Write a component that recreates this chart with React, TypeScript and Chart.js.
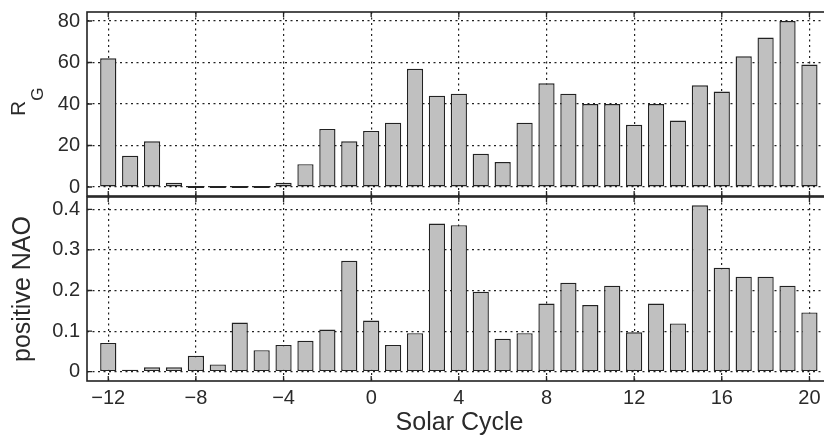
import React, { useEffect, useRef } from "react";
import { Chart, registerables } from "chart.js";

Chart.register(...registerables);

// ---- data ----
const solarCycles = [-12, -11, -10, -9, -8, -7, -6, -5, -4, -3, -2, -1, 0, 1, 2, 3, 4, 5, 6, 7, 8, 9, 10, 11, 12, 13, 14, 15, 16, 17, 18, 19, 20];
const rgValues = [62, 15, 22, 2, 0, 0, 0, 0, 2, 11, 28, 22, 27, 31, 57, 44, 45, 16, 12, 31, 50, 45, 40, 40, 30, 40, 32, 49, 46, 63, 72, 80, 59];
const naoValues = [0.071, 0.004, 0.011, 0.011, 0.039, 0.018, 0.121, 0.053, 0.066, 0.076, 0.104, 0.273, 0.126, 0.066, 0.095, 0.365, 0.361, 0.197, 0.081, 0.095, 0.168, 0.219, 0.164, 0.212, 0.097, 0.168, 0.119, 0.41, 0.256, 0.234, 0.234, 0.212, 0.146];
const xTickValues = [-12, -8, -4, 0, 4, 8, 12, 16, 20];
const rgTickValues = [0, 20, 40, 60, 80];
const naoTickValues = [0, 0.1, 0.2, 0.3, 0.4];
const xAxisTitle = "Solar Cycle";
const rgAxisTitleMain = "R";
const rgAxisTitleSub = "G";
const naoAxisTitle = "positive NAO";

// ---- style ----
const FONT = "'Liberation Sans', Arial, Helvetica, sans-serif";
const INK = "#222222";
const TEXT = "#2a2a2a";
const BAR_FILL = "#c0c0c0";

const frameAndTicks = {
  id: "frameAndTicks",
  afterDatasetsDraw(chart: any) {
    const { ctx, chartArea: a, scales } = chart;
    const len = 5;
    ctx.save();
    ctx.strokeStyle = INK;
    ctx.lineWidth = 1.3;
    ctx.setLineDash([]);
    ctx.beginPath();
    scales.x.ticks.forEach((t: any) => {
      const px = scales.x.getPixelForValue(t.value);
      ctx.moveTo(px, a.bottom);
      ctx.lineTo(px, a.bottom - len);
      ctx.moveTo(px, a.top);
      ctx.lineTo(px, a.top + len);
    });
    scales.y.ticks.forEach((t: any) => {
      const py = scales.y.getPixelForValue(t.value);
      ctx.moveTo(a.left, py);
      ctx.lineTo(a.left + len, py);
      ctx.moveTo(a.right, py);
      ctx.lineTo(a.right - len, py);
    });
    ctx.stroke();
    ctx.lineWidth = 1.6;
    ctx.strokeRect(a.left, a.top, a.right - a.left, a.bottom - a.top);
    ctx.restore();
  },
};

const rgTitlePlugin = {
  id: "rgTitle",
  afterDraw(chart: any) {
    const { ctx } = chart;
    ctx.save();
    ctx.translate(25, 116);
    ctx.rotate(-Math.PI / 2);
    ctx.fillStyle = TEXT;
    ctx.textAlign = "left";
    ctx.textBaseline = "alphabetic";
    ctx.font = `21px ${FONT}`;
    ctx.fillText(rgAxisTitleMain, 0, 0);
    const w = ctx.measureText(rgAxisTitleMain).width;
    ctx.font = `17px ${FONT}`;
    ctx.fillText(rgAxisTitleSub, w, 18);
    ctx.restore();
  },
};

function buildConfig(p: {
  values: number[];
  yMin: number;
  yMax: number;
  yTicks: number[];
  yFmt: (v: number) => string;
  bottomPanel: boolean;
  padTop: number;
  xHeight: number;
  extraPlugins: any[];
}): any {
  return {
    type: "bar",
    data: {
      datasets: [
        {
          data: solarCycles.map((x, i) => ({ x, y: p.values[i] })),
          backgroundColor: BAR_FILL,
          borderColor: INK,
          borderWidth: 1.4,
          borderSkipped: false,
          barPercentage: 0.74,
          categoryPercentage: 1,
          minBarLength: 2,
        },
      ],
    },
    options: {
      animation: false,
      responsive: true,
      maintainAspectRatio: false,
      layout: { padding: { top: p.padTop, left: 0, right: 0, bottom: 0 } },
      plugins: { legend: { display: false }, tooltip: { enabled: false } },
      scales: {
        x: {
          type: "linear",
          min: -12.97,
          max: 21.03,
          offset: false,
          afterBuildTicks: (axis: any) => {
            axis.ticks = xTickValues.map((v) => ({ value: v }));
          },
          afterFit: (axis: any) => {
            axis.height = p.xHeight;
            axis.paddingLeft = 0;
            axis.paddingRight = 0;
          },
          ticks: {
            display: p.bottomPanel,
            font: { family: FONT, size: 20 },
            color: TEXT,
            padding: 5,
            maxRotation: 0,
            autoSkip: false,
            callback: (v: number) => (v < 0 ? "\u2212" + Math.abs(v) : String(v)),
          },
          grid: { color: INK, lineWidth: 1.2, drawTicks: false, offset: false },
          border: { display: false, dash: [2, 3.5] },
          title: {
            display: p.bottomPanel,
            text: xAxisTitle,
            color: TEXT,
            font: { family: FONT, size: 25 },
            padding: { top: 0, bottom: 0 },
          },
        },
        y: {
          type: "linear",
          min: p.yMin,
          max: p.yMax,
          afterBuildTicks: (axis: any) => {
            axis.ticks = p.yTicks.map((v) => ({ value: v }));
          },
          afterFit: (axis: any) => {
            axis.width = 87;
            axis.paddingTop = 0;
            axis.paddingBottom = 0;
          },
          ticks: {
            font: { family: FONT, size: 20 },
            color: TEXT,
            padding: 7,
            callback: (v: number) => p.yFmt(v),
          },
          grid: { color: INK, lineWidth: 1.2, drawTicks: false },
          border: { display: false, dash: [2, 3.5] },
          title: {
            display: p.bottomPanel,
            text: naoAxisTitle,
            color: TEXT,
            font: { family: FONT, size: 25 },
            padding: { top: 8, bottom: 0 },
          },
        },
      },
    },
    plugins: [frameAndTicks, ...p.extraPlugins],
  };
}

export default function App() {
  const topRef = useRef<HTMLCanvasElement | null>(null);
  const bottomRef = useRef<HTMLCanvasElement | null>(null);

  useEffect(() => {
    if (!topRef.current || !bottomRef.current) return;
    const top = new Chart(
      topRef.current,
      buildConfig({
        values: rgValues,
        yMin: -4.34,
        yMax: 84.34,
        yTicks: rgTickValues,
        yFmt: (v) => String(v),
        bottomPanel: false,
        padTop: 12,
        xHeight: 2,
        extraPlugins: [rgTitlePlugin],
      })
    );
    const bottom = new Chart(
      bottomRef.current,
      buildConfig({
        values: naoValues,
        yMin: -0.0229,
        yMax: 0.4303,
        yTicks: naoTickValues,
        yFmt: (v) => (v === 0 ? "0" : v.toFixed(1)),
        bottomPanel: true,
        padTop: 1,
        xHeight: 57,
        extraPlugins: [],
      })
    );
    return () => {
      top.destroy();
      bottom.destroy();
    };
  }, []);

  return (
    <div style={{ position: "absolute", left: 0, top: 0, width: 824, height: 438, background: "#fff", overflow: "hidden" }}>
      <div style={{ position: "absolute", left: 0, top: 0, width: 832, height: 198 }}>
        <canvas ref={topRef} />
      </div>
      <div style={{ position: "absolute", left: 0, top: 196, width: 832, height: 242 }}>
        <canvas ref={bottomRef} />
      </div>
    </div>
  );
}
